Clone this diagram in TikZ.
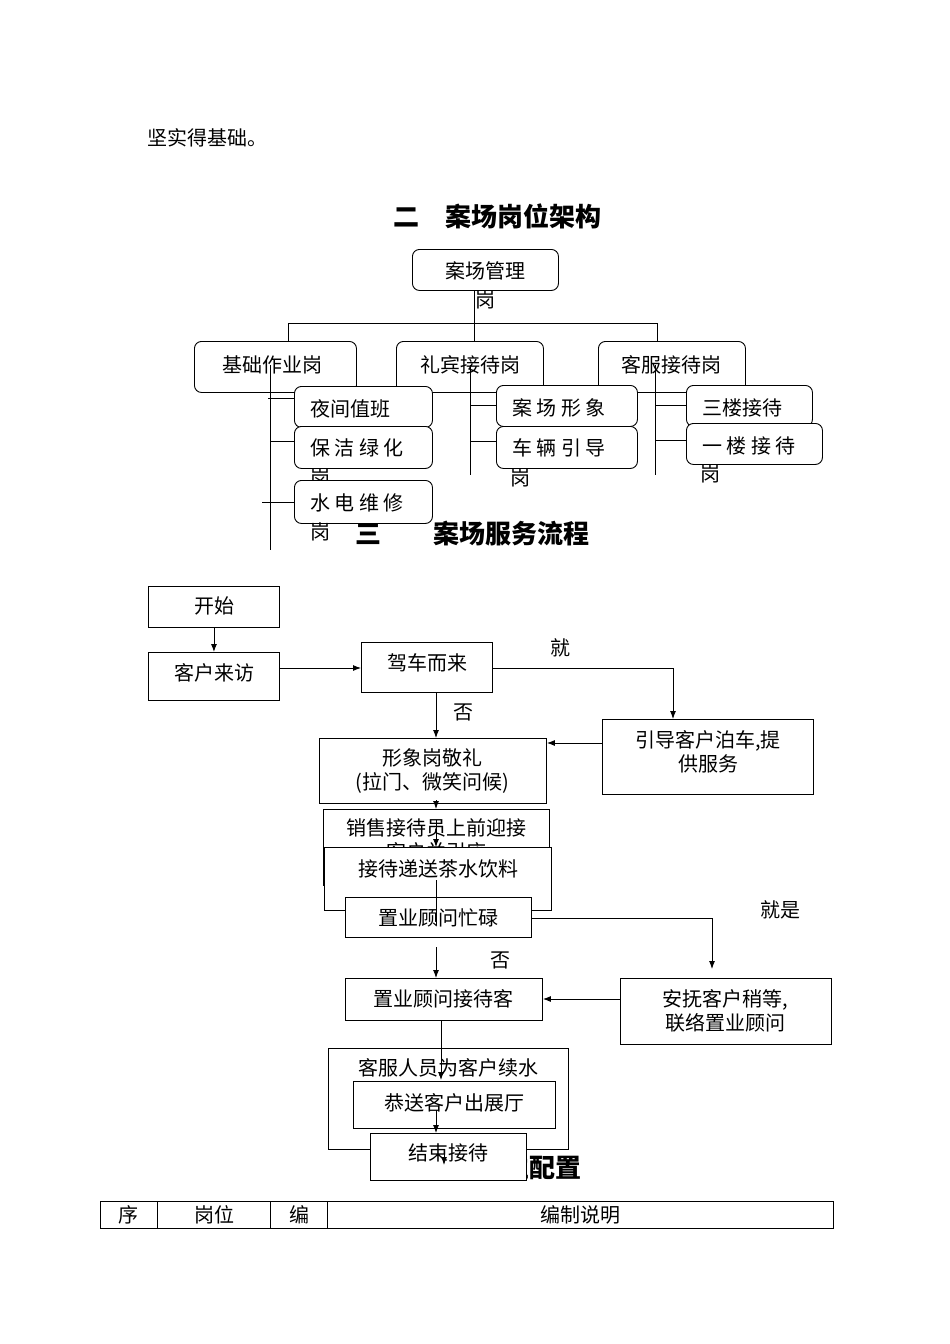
\documentclass[tikz,border=0pt]{standalone}
\usepackage{fontspec}
\setmainfont{Noto Sans CJK SC}
\usetikzlibrary{arrows.meta}
\begin{document}
\begin{tikzpicture}[x=1pt,y=-1pt,
  rb/.style={draw,rounded corners=7pt,fill=white,line width=0.9pt,anchor=north west,inner sep=0},
  sb/.style={draw,fill=white,line width=0.9pt,anchor=north west,inner sep=0},
  tx/.style={inner sep=0,font=\fontsize{20}{24}\selectfont},
  ttl/.style={inner sep=0,font=\fontsize{26}{30}\selectfont\bfseries},
  ln/.style={line width=0.9pt},
  ar/.style={line width=0.9pt,-{Latex[length=8pt,width=6pt]}}]
\path[use as bounding box,fill=white] (0,0) rectangle (950,1344);
\node[tx,anchor=west] (top) at (147,138) {坚实得基础。};
\node[ttl] (t2) at (497,216) {二\quad 案场岗位架构};
% org chart
\node[rb,minimum width=146pt,minimum height=41pt] (m) at (412,249) {};
\node[tx] at (485,271) {案场管理};
\node[tx] at (485,300) {岗};
\coordinate (hl) at (288,323); \coordinate (hr) at (657,323);
\node[rb,minimum width=162pt,minimum height=51pt] (b1) at (194,341) {};
\node[rb,minimum width=147pt,minimum height=51pt] (b2) at (396,341) {};
\node[rb,minimum width=147pt,minimum height=51pt] (b3) at (598,341) {};
\node[tx] at (272,365) {基础作业岗};
\node[tx] at (470,365) {礼宾接待岗};
\node[tx] at (671,365) {客服接待岗};
\draw[ln] (m.south -| 474,0) -- (474,341);
\draw[ln] (288,341) -- (hl) -- (hr) -- (657,341);
% sub boxes
\node[rb,minimum width=138pt,minimum height=41pt] (s1) at (294,386) {};
\node[tx,anchor=west] at (310,409) {夜间值班};
\node[rb,minimum width=138pt,minimum height=42pt] (s2) at (294,426) {};
\node[tx,anchor=west] at (310,448) {保\ 洁\ 绿\ 化};
\node[tx] at (320,478) {岗};
\node[rb,minimum width=138pt,minimum height=43pt] (s3) at (294,480) {};
\node[tx,anchor=west] at (310,503) {水\ 电\ 维\ 修};
\node[tx] at (320,532) {岗};
\node[rb,minimum width=141pt,minimum height=41pt] (s4) at (496,385) {};
\node[tx,anchor=west] at (512,408) {案\ 场\ 形\ 象};
\node[rb,minimum width=141pt,minimum height=42pt] (s5) at (496,426) {};
\node[tx,anchor=west] at (512,448) {车\ 辆\ 引\ 导};
\node[tx] at (520,478) {岗};
\node[rb,minimum width=126pt,minimum height=41pt] (s6) at (686,385) {};
\node[tx,anchor=west] at (702,408) {三楼接待};
\node[rb,minimum width=136pt,minimum height=41pt] (s7) at (686,423) {};
\node[tx,anchor=west] at (702,446) {一\ 楼\ 接\ 待};
\node[tx] at (710,474) {岗};
\draw[ln] (270,365) -- (270,550);
\draw[ln] (268,398) -- (s1.west |- 0,398);
\draw[ln] (270,441) -- (s2.west |- 0,441);
\draw[ln] (262,502) -- (s3.west |- 0,502);
\draw[ln] (470,365) -- (470,475);
\draw[ln] (470,405) -- (s4.west |- 0,405);
\draw[ln] (470,441) -- (s5.west |- 0,441);
\draw[ln] (655,365) -- (655,475);
\draw[ln] (655,405) -- (s6.west |- 0,405);
\draw[ln] (655,440) -- (s7.west |- 0,440);
\node[ttl,anchor=west] (t3) at (355,534) {三\qquad 案场服务流程};
% flow
\node[sb,minimum width=131pt,minimum height=41pt] (f1) at (148,586) {};
\node[tx] at (214,606) {开始};
\node[sb,minimum width=131pt,minimum height=48pt] (f2) at (148,652) {};
\node[tx] at (214,673) {客户来访};
\node[sb,minimum width=131pt,minimum height=50pt] (f3) at (361,642) {};
\node[tx] at (427,663) {驾车而来};
\node[sb,minimum width=211pt,minimum height=75pt] (f4) at (602,719) {};
\node[tx,align=center] at (708,752) {引导客户泊车,提\\供服务};
\node[sb,minimum width=227pt,minimum height=65pt] (f5) at (319,738) {};
\node[tx,align=center] at (432,771) {形象岗敬礼\\(拉门、微笑问候)};
\node[sb,minimum width=226pt,minimum height=76pt] (f6) at (323,809) {};
\node[tx,align=center,anchor=north] at (436,818) {销售接待员上前迎接\\客户并引座};
\node[sb,minimum width=227pt,minimum height=63pt] (f7) at (324,847) {};
\node[tx] at (438,869) {接待递送茶水饮料};
\node[sb,minimum width=186pt,minimum height=40pt] (f8) at (345,897) {};
\node[tx] at (438,918) {置业顾问忙碌};
\node[sb,minimum width=197pt,minimum height=42pt] (f9) at (345,978) {};
\node[tx] at (443,999) {置业顾问接待客};
\node[sb,minimum width=211pt,minimum height=66pt] (f10) at (620,978) {};
\node[tx,align=center] at (725,1011) {安抚客户稍等,\\联络置业顾问};
\node[ttl] (t4) at (477,1167) {四\quad 案场岗位配置};
\node[sb,minimum width=240pt,minimum height=101pt] (f11) at (328,1048) {};
\node[tx,align=center,anchor=north] at (448,1058) {客服人员为客户续水\\或送客户资料等，\\介绍楼盘};
\node[sb,minimum width=202pt,minimum height=47pt] (f12) at (353,1081) {};
\node[tx] at (454,1103) {恭送客户出展厅};
\node[sb,minimum width=156pt,minimum height=47pt] (f13) at (370,1133) {};
\node[tx] at (448,1153) {结束接待};
\node[tx] at (560,648) {就};
\node[tx] at (463,712) {否};
\node[tx] at (780,910) {就是};
\node[tx] at (500,960) {否};
\draw[ar] (f1.south) -- (f2.north);
\draw[ar] (f2.east |- 0,668) -- (f3.west |- 0,668);
\draw[ar] (f3.east |- 0,668) -- (673,668) -- (673,719);
\draw[ar] (f4.west |- 0,743) -- (f5.east |- 0,743);
\draw[ln] (436,692) -- (436,712);
\draw[ar] (436,712) -- (f5.north -| 436,0);
\draw[ar] (436,800) -- (f6.north -| 436,0);
\draw[ar] (436,820) -- (f7.north -| 436,0);
\draw[ln] (436,880) -- (436,925);
\draw[ar] (f8.east |- 0,918) -- (712,918) -- (712,969);
\draw[ar] (436,947) -- (f9.north -| 436,0);
\draw[ar] (f10.west |- 0,999) -- (f9.east |- 0,999);
\draw[ar] (441,1020) -- (441,1080);
\draw[ar] (436,1110) -- (436,1133);
\draw[ar] (444,1150) -- (444,1165);
% table
\draw[ln] (100,1201) rectangle (833,1228);
\draw[ln] (157,1201) -- (157,1228) (270,1201) -- (270,1228) (327,1201) -- (327,1228);
\node[tx] at (128,1215) {序};
\node[tx] at (214,1215) {岗位};
\node[tx] at (299,1215) {编};
\node[tx] at (580,1215) {编制说明};
\end{tikzpicture}
\end{document}
